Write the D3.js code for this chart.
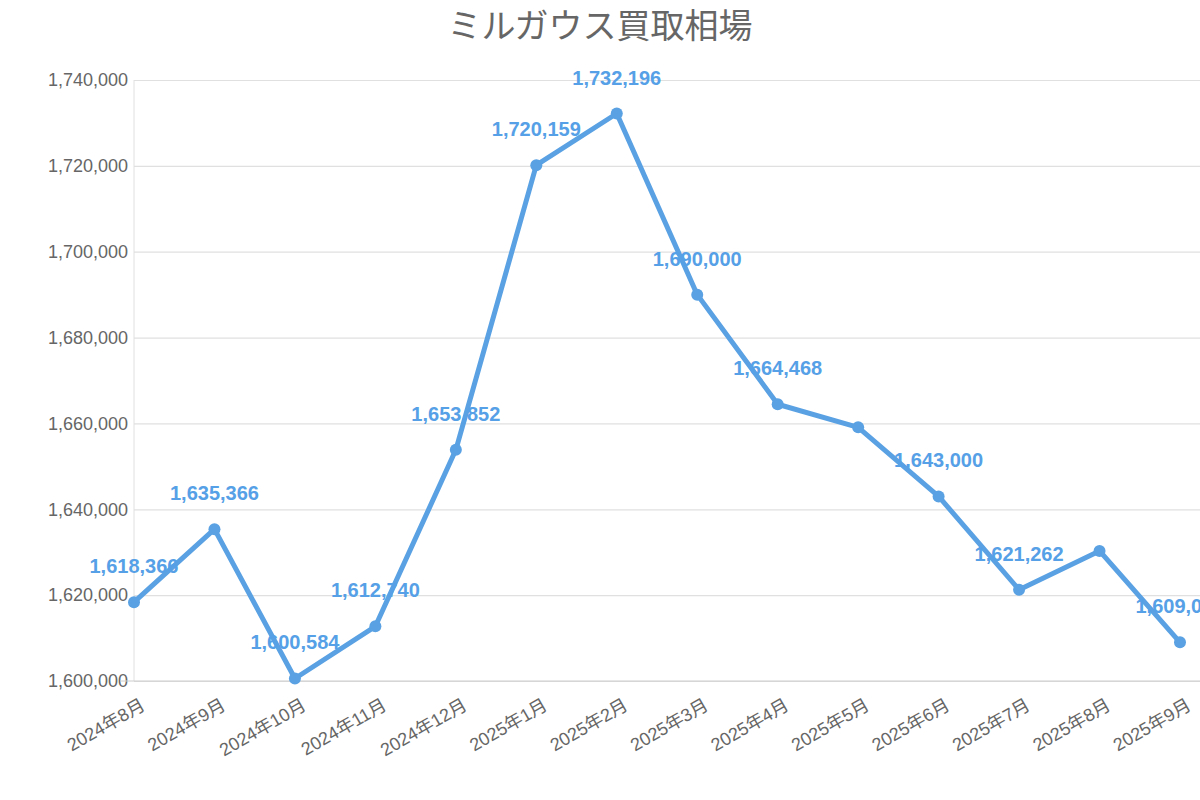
<!DOCTYPE html>
<html><head><meta charset="utf-8">
<script src="https://cdn.jsdelivr.net/npm/d3@7"></script>
<style>body{margin:0;background:#fff}svg{display:block}</style>
</head><body><svg width="1200" height="800"></svg>
<script>
const categories=["2024年8月","2024年9月","2024年10月","2024年11月","2024年12月","2025年1月","2025年2月","2025年3月","2025年4月","2025年5月","2025年6月","2025年7月","2025年8月","2025年9月"];
const values=[1618366,1635366,1600584,1612740,1653852,1720159,1732196,1690000,1664468,1659100,1643000,1621262,1630300,1609000];
const showLabel=[1,1,1,1,1,1,1,1,1,0,1,1,0,1];
const yTicks=[1600000,1620000,1640000,1660000,1680000,1700000,1720000,1740000];
const svg=d3.select("svg");
const font="'Liberation Sans','Noto Sans CJK JP',sans-serif";
const x=d3.scalePoint().domain(categories).range([134,1180]);
const y=d3.scaleLinear().domain([1600000,1740000]).range([681,80]);
svg.append("text").attr("x",600).attr("y",38).attr("text-anchor","middle").attr("font-family",font).attr("font-size",34).attr("fill","#666").text("ミルガウス買取相場");
const gy=svg.append("g").attr("transform","translate(134,0)").call(d3.axisLeft(y).tickValues(yTicks).tickSize(-1066).tickFormat(d3.format(",")).tickPadding(6));
gy.select(".domain").remove();
gy.selectAll(".tick line").attr("stroke","#e0e0e0").attr("stroke-width",1.2);
gy.selectAll("text").attr("font-family",font).attr("font-size",18).attr("fill","#666");
gy.append("line").attr("x1",0).attr("x2",0).attr("y1",80).attr("y2",681).attr("stroke","#e0e0e0");
svg.append("line").attr("x1",120).attr("x2",1200).attr("y1",681).attr("y2",681).attr("stroke","#ccc");
const gx=svg.append("g").attr("transform","translate(0,681)").call(d3.axisBottom(x).tickSize(0));
gx.select(".domain").remove();
gx.selectAll("text").attr("font-family",font).attr("font-size",18).attr("fill","#666").attr("text-anchor","end").attr("transform","translate(4,14) rotate(-30)");
const line=d3.line().x((d,i)=>x(categories[i])).y(d=>y(d));
svg.append("path").datum(values).attr("d",line).attr("fill","none").attr("stroke","#59a1e3").attr("stroke-width",5).attr("stroke-linejoin","round");
svg.selectAll("circle").data(values).join("circle").attr("cx",(d,i)=>x(categories[i])).attr("cy",d=>y(d)).attr("r",6).attr("fill","#59a1e3");
const lbls=values.map((v,i)=>({v,c:categories[i],s:showLabel[i]})).filter(d=>d.s);
svg.selectAll(".lbl").data(lbls).join("text").attr("x",d=>x(d.c)).attr("y",d=>y(d.v)-29).attr("text-anchor","middle").attr("font-family",font).attr("font-weight","bold").attr("font-size",20).attr("fill","#55a0e6").text(d=>d3.format(",")(d.v));
</script></body></html>
